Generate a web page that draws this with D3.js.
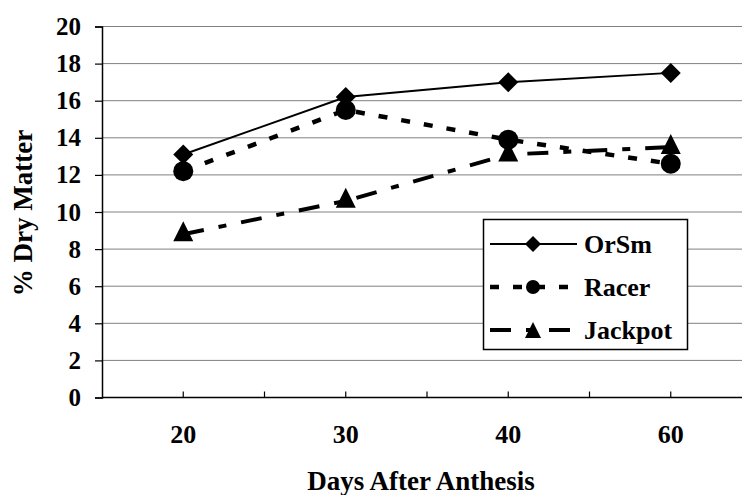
<!DOCTYPE html>
<html>
<head>
<meta charset="utf-8">
<script src="https://cdn.jsdelivr.net/npm/d3@7"></script>
<style>
  body { margin: 0; background: #fff; }
  text { font-family: 'Liberation Serif', 'Times New Roman', serif; font-weight: bold; fill: #000; }
  .grid line { stroke: #808080; stroke-width: 1; }
</style>
</head>
<body>
<div class="container"></div>
<script>
// data
var days = ['20', '30', '40', '60']
var orsm = [13.1, 16.2, 17.0, 17.5]
var racer = [12.2, 15.5, 13.9, 12.6]
var jackpot = [8.8, 10.6, 13.1, 13.5]
var yTicks = [0, 2, 4, 6, 8, 10, 12, 14, 16, 18, 20]

var series = [
  { name: 'OrSm', values: orsm, dash: null, width: 2, marker: 'diamond' },
  { name: 'Racer', values: racer, dash: '9,14', width: 4.5, marker: 'circle' },
  { name: 'Jackpot', values: jackpot, dash: '21,15,8,15', width: 4, marker: 'triangle' }
]

var W = 742
var H = 495
var plotLeft = 102
var plotTop = 26.5
var plotBottom = 397.5

var svg = d3.select('.container')
            .append('svg')
            .attr('width', W)
            .attr('height', H)

var xScale = d3.scaleBand()
               .domain(days)
               .range([plotLeft, plotLeft + 4 * 162.5])

var yScale = d3.scaleLinear()
               .domain([0, 20])
               .range([plotBottom, plotTop])

// gridlines
svg.append('g')
   .attr('class', 'grid')
   .selectAll('line')
   .data(yTicks.filter(function (d) { return d > 0 }))
   .enter()
   .append('line')
   .attr('x1', plotLeft)
   .attr('x2', W)
   .attr('y1', function (d) { return yScale(d) })
   .attr('y2', function (d) { return yScale(d) })

// y axis
var yAxis = svg.append('g')
               .attr('transform', 'translate(' + plotLeft + ',0)')
               .call(d3.axisLeft(yScale).tickValues(yTicks).tickSize(7).tickPadding(14))
yAxis.select('.domain').attr('stroke', '#000').attr('stroke-width', 1.5)
yAxis.selectAll('.tick line').attr('stroke', '#000').attr('stroke-width', 1.2)
yAxis.selectAll('.tick text')
     .style('font-size', '25px')
     .style('font-family', "'Liberation Serif', serif")
     .style('font-weight', 'bold')
     .attr('fill', '#000')

// x axis line and ticks (ticks point up into the plot)
svg.append('line')
   .attr('x1', plotLeft)
   .attr('x2', W)
   .attr('y1', plotBottom)
   .attr('y2', plotBottom)
   .attr('stroke', '#000')
   .attr('stroke-width', 1.5)

var tickXs = []
days.forEach(function (d, i) {
  tickXs.push(xScale(d) + xScale.bandwidth() / 2)
  if (i > 0) tickXs.push(xScale(d))
})
svg.append('g')
   .selectAll('line')
   .data(tickXs)
   .enter()
   .append('line')
   .attr('x1', function (d) { return d })
   .attr('x2', function (d) { return d })
   .attr('y1', plotBottom)
   .attr('y2', plotBottom - 6)
   .attr('stroke', '#000')
   .attr('stroke-width', 1.2)

svg.append('g')
   .selectAll('text')
   .data(days)
   .enter()
   .append('text')
   .attr('x', function (d) { return xScale(d) + xScale.bandwidth() / 2 })
   .attr('y', 443)
   .attr('text-anchor', 'middle')
   .style('font-size', '26px')
   .text(function (d) { return d })

// axis titles
svg.append('text')
   .attr('x', 421)
   .attr('y', 490)
   .attr('text-anchor', 'middle')
   .style('font-size', '27px')
   .text('Days After Anthesis')

svg.append('text')
   .attr('transform', 'translate(32,213) rotate(-90)')
   .attr('text-anchor', 'middle')
   .style('font-size', '27px')
   .text('% Dry Matter')

function markerPath (type, s) {
  if (type === 'diamond') return 'M0,' + (-s) + 'L' + s + ',0L0,' + s + 'L' + (-s) + ',0Z'
  if (type === 'triangle') return 'M0,' + (-s) + 'L' + s + ',' + s + 'L' + (-s) + ',' + s + 'Z'
  return d3.symbol().type(d3.symbolCircle).size(Math.PI * s * s)()
}

var line = d3.line()
             .x(function (d, i) { return xScale(days[i]) + xScale.bandwidth() / 2 })
             .y(function (d) { return yScale(d) })

series.forEach(function (s) {
  var g = svg.append('g').attr('class', 'series')
  g.append('path')
   .attr('d', line(s.values))
   .attr('fill', 'none')
   .attr('stroke', '#000')
   .attr('stroke-width', s.width)
   .attr('stroke-dasharray', s.dash)
  g.selectAll('.mark')
   .data(s.values)
   .enter()
   .append('path')
   .attr('class', 'mark')
   .attr('d', markerPath(s.marker, 10))
   .attr('transform', function (d, i) {
     var dy = s.marker === 'triangle' ? -3 : 0
     return 'translate(' + (xScale(days[i]) + xScale.bandwidth() / 2) + ',' + (yScale(d) + dy) + ')'
   })
   .attr('fill', '#000')
})

// legend
var legend = svg.append('g').attr('class', 'legend')
legend.append('rect')
      .attr('x', 483.5)
      .attr('y', 219.5)
      .attr('width', 204)
      .attr('height', 130)
      .attr('fill', '#fff')
      .attr('stroke', '#000')
      .attr('stroke-width', 1.5)

var entry = legend.selectAll('.entry')
                  .data(series)
                  .enter()
                  .append('g')
                  .attr('class', 'entry')
                  .attr('transform', function (d, i) { return 'translate(0,' + (244 + i * 43) + ')' })

entry.append('line')
     .attr('x1', 490)
     .attr('x2', 577)
     .attr('stroke', '#000')
     .attr('stroke-width', function (d) { return d.width })
     .attr('stroke-dasharray', function (d) { return d.dash })

entry.append('path')
     .attr('d', function (d) { return markerPath(d.marker, d.marker === 'circle' ? 7 : 8) })
     .attr('transform', 'translate(533,0)')
     .attr('fill', '#000')

entry.append('text')
     .attr('x', 584)
     .attr('y', 9)
     .style('font-size', '26px')
     .text(function (d) { return d.name })
</script>
</body>
</html>
